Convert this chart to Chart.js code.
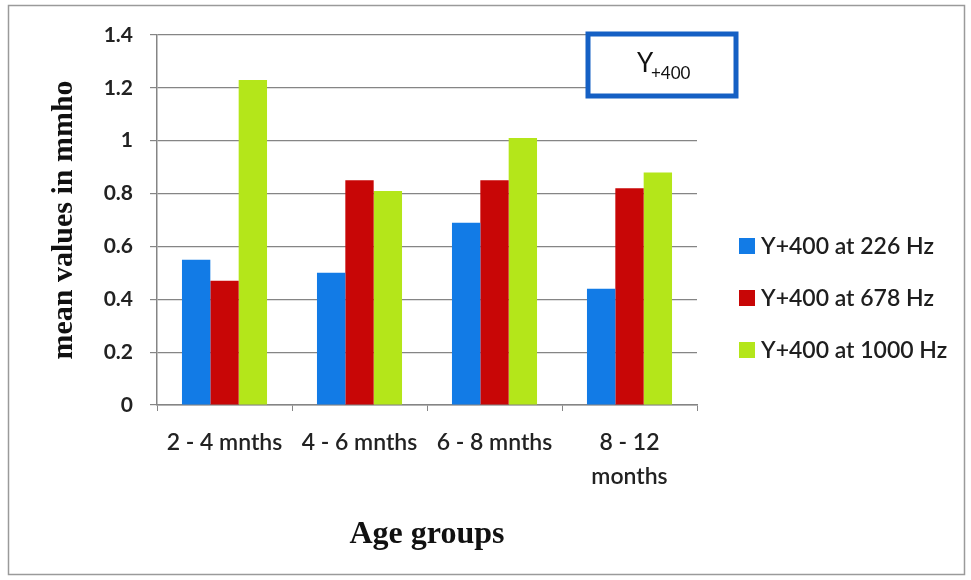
<!DOCTYPE html>
<html>
<head>
<meta charset="utf-8">
<script src="https://cdn.jsdelivr.net/npm/chart.js@4.4.1/dist/chart.umd.min.js"></script>
<style>
  html, body { margin: 0; padding: 0; background: #fff; }
  #wrap { width: 971px; height: 580px; position: relative; }
</style>
</head>
<body>
<div id="wrap"><canvas id="chart" width="971" height="580"></canvas></div>
<script>
// data
const categories = ['2 - 4 mnths', '4 - 6 mnths', '6 - 8 mnths', ['8 - 12', 'months']];
const seriesNames = ['Y+400 at 226 Hz', 'Y+400 at 678 Hz', 'Y+400 at 1000 Hz'];
const values226 = [0.55, 0.50, 0.69, 0.44];
const values678 = [0.47, 0.85, 0.85, 0.82];
const values1000 = [1.23, 0.81, 1.01, 0.88];
const yTicks = [0, 0.2, 0.4, 0.6, 0.8, 1, 1.2, 1.4];

const colors = ['#127be6', '#c80606', '#b4e61a'];
const gridColor = '#858585';
const sansFont = "Lato, 'Open Sans', 'Liberation Sans', sans-serif";
const serifFont = "'Liberation Serif', 'DejaVu Serif', serif";

// frame, "Y+400" box and legend on the right
const decorations = {
    id: 'decorations',
    beforeDraw(chart) {
        const ctx = chart.ctx;
        ctx.save();
        ctx.fillStyle = '#fff';
        ctx.fillRect(0, 0, chart.width, chart.height);
        ctx.strokeStyle = '#9a9a9a';
        ctx.lineWidth = 1.5;
        ctx.strokeRect(8.5, 5.5, 956, 569);
        ctx.restore();
    },
    afterDraw(chart) {
        const ctx = chart.ctx;
        ctx.save();

        // Y+400 box
        ctx.fillStyle = '#fff';
        ctx.fillRect(588, 34, 148, 62);
        ctx.strokeStyle = '#1560c4';
        ctx.lineWidth = 5;
        ctx.strokeRect(588, 34, 148, 62);
        ctx.fillStyle = '#111';
        ctx.textBaseline = 'alphabetic';
        ctx.textAlign = 'left';
        ctx.font = '26px ' + sansFont;
        ctx.fillText('Y', 637, 72);
        ctx.font = '17px ' + sansFont;
        ctx.fillText('+400', 651, 79);

        // legend
        ctx.textBaseline = 'middle';
        ctx.font = '600 23px ' + sansFont;
        chart.data.datasets.forEach((ds, i) => {
            const y = 246 + i * 52;
            ctx.fillStyle = ds.backgroundColor;
            ctx.fillRect(739, y - 8, 16, 16);
            ctx.fillStyle = '#1e1e1e';
            ctx.fillText(ds.label, 761, y + 1);
        });
        ctx.restore();
    }
};

new Chart(document.getElementById('chart'), {
    type: 'bar',
    data: {
        labels: categories,
        datasets: [
            { label: seriesNames[0], data: values226, backgroundColor: colors[0] },
            { label: seriesNames[1], data: values678, backgroundColor: colors[1] },
            { label: seriesNames[2], data: values1000, backgroundColor: colors[2] }
        ]
    },
    options: {
        responsive: false,
        animation: false,
        devicePixelRatio: 1,
        layout: { padding: { left: 46, top: 35, right: 274, bottom: 26 } },
        datasets: { bar: { categoryPercentage: 0.63, barPercentage: 1.0 } },
        plugins: {
            legend: { display: false },
            tooltip: { enabled: false }
        },
        scales: {
            x: {
                grid: {
                    offset: true,
                    drawOnChartArea: false,
                    drawTicks: true,
                    tickLength: 6,
                    color: gridColor
                },
                border: { color: gridColor, width: 1.5 },
                ticks: {
                    padding: 14,
                    color: '#222',
                    font: { family: sansFont, size: 23, weight: '600', lineHeight: 1.5 }
                },
                title: {
                    display: true,
                    text: 'Age groups',
                    color: '#111',
                    font: { family: serifFont, size: 32, weight: 'bold' },
                    padding: { top: 0, bottom: 0 }
                },
                afterFit(scale) { scale.height = 149; }
            },
            y: {
                min: 0,
                max: 1.4,
                afterBuildTicks(scale) {
                    scale.ticks = yTicks.map(v => ({ value: v }));
                },
                grid: {
                    color: gridColor,
                    lineWidth: 1.2,
                    drawTicks: true,
                    tickLength: 7
                },
                border: { color: gridColor, width: 1.5 },
                ticks: {
                    padding: 17,
                    color: '#222',
                    font: { family: sansFont, size: 21, weight: 'bold' },
                    callback: v => String(Math.round(v * 10) / 10)
                },
                title: {
                    display: true,
                    text: 'mean values in mmho',
                    color: '#111',
                    font: { family: serifFont, size: 30, weight: 'bold' },
                    padding: { top: 0, bottom: 0 }
                },
                afterFit(scale) { scale.width = 111; }
            }
        }
    },
    plugins: [decorations]
});
</script>
</body>
</html>
